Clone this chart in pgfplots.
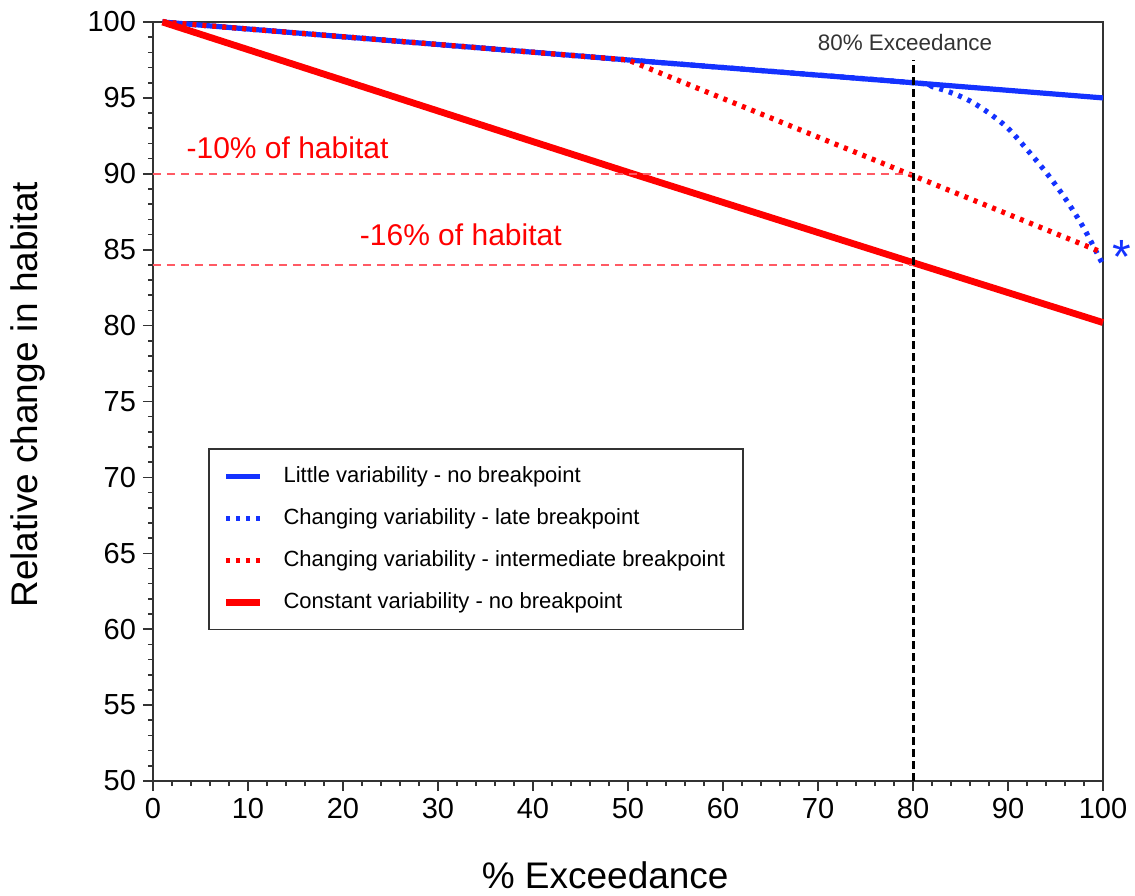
\documentclass[border=0pt]{standalone}
\usepackage{pgfplots}
\pgfplotsset{compat=1.18}
\usepackage{fontspec}
\setmainfont{Liberation Sans}
\definecolor{myblue}{RGB}{20,50,255}
\definecolor{myred}{RGB}{255,0,0}
\definecolor{mypink}{RGB}{255,90,100}
\begin{document}
\begin{tikzpicture}
\begin{axis}[
  name=ax,
  scale only axis,
  width=475pt, height=379.5pt,
  xmin=0, xmax=100, ymin=50, ymax=100,
  xtick={0,10,...,100}, ytick={50,55,...,100},
  minor x tick num=4, minor y tick num=4,
  tick align=outside, tick pos=left,
  major tick length=5pt, minor tick length=2.5pt,
  axis line style={black!80, line width=0.8pt},
  every tick/.style={black!80, line width=0.8pt},
  tick label style={font=\fontsize{14.5}{16}\selectfont},
  /pgf/number format/assume math mode=true,
  xlabel={\% Exceedance},
  ylabel={Relative change in habitat},
  every axis x label/.style={at={(axis description cs:0.476,0)}, yshift=-47pt, anchor=center, font=\fontsize{18.5}{20}\selectfont},
  every axis y label/.style={at={(axis description cs:0,0.509)}, xshift=-62.75pt, rotate=90, anchor=center, font=\fontsize{18.5}{20}\selectfont},
  clip=false,
  legend cell align=left,
  legend image code/.code={\draw[#1] (0pt,0pt) -- (17pt,0pt);},
  legend style={at={(axis description cs:0.0579,0.4387)}, anchor=north west,
    draw=black!80, line width=0.8pt, font=\fontsize{11}{13}\selectfont,
    row sep=7.5pt, inner xsep=7pt, inner ysep=7pt,
    nodes={line width=0pt},
    /tikz/every odd column/.append style={column sep=8pt}},
]
% Little variability - no breakpoint
\addplot[myblue, line width=2.6pt] coordinates {(1,100) (50,97.5) (80,96) (100,95)};
\addlegendentry{Little variability - no breakpoint}
% Changing variability - late breakpoint
\addplot[myblue, line width=2.6pt, dash pattern=on 2pt off 3pt, smooth] coordinates {
(1,100) (50,97.5) (80,96) (82,95.75) (84,95.35) (86,94.8) (88,94.0) (90,93.0) (92,91.6) (94,90.1) (96,88.4) (98,86.4) (100,84.0)};
\addlegendentry{Changing variability - late breakpoint}
% Changing variability - intermediate breakpoint
\addplot[myred, line width=2.6pt, dash pattern=on 2pt off 3pt] coordinates {(1,100) (50,97.5) (100,84.8)};
\addlegendentry{Changing variability - intermediate breakpoint}
% Constant variability - no breakpoint
\addplot[myred, line width=3.4pt] coordinates {(1,100) (50,90.1) (80,84.15) (100,80.2)};
\addlegendentry{Constant variability - no breakpoint}
% reference lines
\addplot[mypink, line width=1.1pt, dash pattern=on 4pt off 3pt, forget plot] coordinates {(0,90) (80,90)};
\addplot[mypink, line width=1.1pt, dash pattern=on 4pt off 3pt, forget plot] coordinates {(0,84) (80,84)};
\addplot[black, line width=1.5pt, dash pattern=on 4pt off 2pt, forget plot] coordinates {(80,50) (80,97.5)};
\node[myred, font=\fontsize{15}{17}\selectfont] at (axis cs:14.16,91.7) {-10\% of habitat};
\node[myred, font=\fontsize{15}{17}\selectfont] at (axis cs:32.4,86.0) {-16\% of habitat};
\node[black!80, font=\fontsize{11.2}{13}\selectfont] at (axis cs:79.16,98.68) {80\% Exceedance};
\node[myblue, font=\fontsize{24}{26}\selectfont] at (axis cs:102,84.5) {*};
\end{axis}
\pgfresetboundingbox
\path (ax.south west) ++(-76.5pt,-57pt) rectangle ++(567.5pt,447.5pt);
\end{tikzpicture}
\end{document}
